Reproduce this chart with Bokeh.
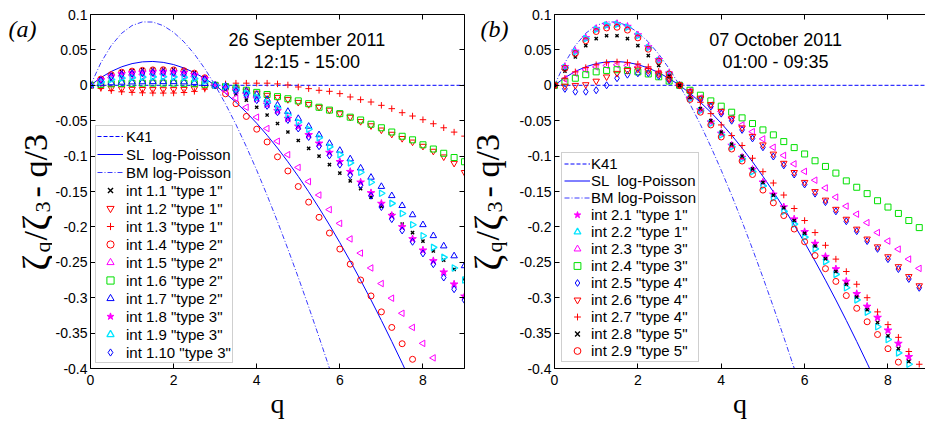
import math
from bokeh.plotting import figure
from bokeh.models import (Range1d, LinearAxis, FixedTicker, CustomJSTickFormatter,
                          CustomLabelingPolicy, Label, Legend, LegendItem)
from bokeh.layouts import row
from bokeh.embed import file_html
from bokeh.resources import INLINE

nan = float("nan")

# ---------------- data ----------------
q_left = [0.0, 0.25, 0.5, 0.75, 1.0, 1.25, 1.5, 1.75, 2.0, 2.25, 2.5, 2.75, 3.0,
          3.25, 3.5, 3.75, 4.0, 4.25, 4.5, 4.75, 5.0, 5.25, 5.5, 5.75, 6.0,
          6.25, 6.5, 6.75, 7.0, 7.25, 7.5, 7.75, 8.0, 8.25, 8.5, 8.75, 9.0]

x_ticks = [0, 2, 4, 6, 8]
y_ticks = [-0.4, -0.35, -0.3, -0.25, -0.2, -0.15, -0.1, -0.05, 0.0, 0.05, 0.1]

k41_q = [0.0, 9.0]
k41 = [0.0, 0.0]
sl_logpoisson = [0, .010892, .019579, .026129, .030618, .03311, .033673, .032371, .02927,
                 .024424, .017894, .009733, 0, -.011256, -.023986, -.038137, -.053663,
                 -.07052, -.088662, -.108048, -.128635, -.150385, -.173258, -.197218,
                 -.222221, -.248245, -.27525, -.303204, -.332072, -.361827, -.392441,
                 -.423884, -.456128, -.489147]
bm_logpoisson = [0, .031929, .056206, .073497, .084417, .089519, .089317, .084269, .074806,
                 .061309, .044132, .023598, 0, -.026394, -.055339, -.086612, -.120009,
                 -.155345, -.19245, -.23117, -.271361, -.312898, -.355659, -.399542, -.444444]

# panel (a): 26 September 2011
int11 = [0, .0092, .0156, .0193, .0209, .0221, .0228, .023, .0228, .0214, .0179, .011, 0,
         -.005, -.012, -.021, -.031, -.042, -.054, -.066, -.078, -.089, -.100, -.112, -.124,
         -.135, -.146, -.158, -.171, -.183, -.196, -.208, -.220, -.234, -.247, -.260, -.273]
int12 = [0, -.0024, -.0041, -.005, -.0055, -.0058, -.0059, -.006, -.0059, -.0056, -.0047, -.0029, 0,
         -.002, -.005, -.008, -.011, -.014, -.017, -.020, -.024, -.027, -.031, -.035, -.040,
         -.045, -.051, -.057, -.063, -.069, -.075, -.080, -.086, -.093, -.101, -.110, -.123]
int13 = [0, -.0044, -.0075, -.0092, -.010, -.0106, -.0109, -.011, -.0109, -.0102, -.0086, -.0053, 0,
         .002, .003, .003, .003, .003, .002, .0005, -.0024, -.0047, -.0071, -.0085, -.0118,
         -.0165, -.0203, -.0236, -.0283, -.033, -.0387, -.0434, -.0486, -.0543, -.060, -.0661, -.0718]
int14 = [0, .0088, .015, .0185, .020, .0211, .0218, .022, .0218, .0205, .0172, .0106, 0,
         -.012, -.026, -.044, -.062, -.080, -.101, -.121, -.143, -.165, -.1865, -.2087, -.2313,
         -.2526, -.275, -.2975, -.320, -.342, -.365, -.387, nan, nan, nan, nan, nan]
int15 = [0, .0064, .0109, .0134, .0146, .0154, .0158, .016, .0158, .0149, .0125, .0077, 0,
         -.008, -.018, -.031, -.045, -.061, -.079, -.098, -.116, -.136, -.155, -.1756, -.195,
         -.217, -.237, -.258, -.280, -.3007, -.322, -.342, -.3645, -.385, nan, nan, nan]
int16 = [0, .0012, .002, .0025, .0027, .0029, .003, .003, .003, .0028, .0023, .0014, 0,
         -.002, -.004, -.007, -.010, -.013, -.016, -.019, -.022, -.026, -.031, -.035, -.040,
         -.045, -.049, -.055, -.060, -.066, -.072, -.077, -.084, -.090, -.096, -.102, -.108]
int17 = [0, .002, .0034, .0042, .0046, .0048, .005, .005, .005, .0047, .0039, .0024, 0,
         -.001, -.004, -.008, -.013, -.020, -.028, -.037, -.047, -.058, -.070, -.082, -.092,
         -.104, -.117, -.130, -.143, -.156, -.170, -.183, -.197, -.2125, -.227, -.241, -.255]
int18 = [0, .0076, .0129, .016, .0173, .0182, .0188, .019, .0188, .0177, .0148, .0091, 0,
         -.003, -.007, -.013, -.019, -.027, -.036, -.047, -.058, -.070, -.082, -.095, -.108,
         -.122, -.137, -.152, -.167, -.184, -.200, -.217, -.233, -.248, -.264, -.281, -.298]
int19 = [0, .0048, .0082, .0101, .0109, .0115, .0119, .012, .0119, .0112, .0094, .0058, 0,
         -.002, -.006, -.011, -.017, -.024, -.032, -.042, -.052, -.062, -.074, -.087, -.098,
         -.1095, -.1228, -.137, -.1525, -.1667, -.181, -.197, -.2125, -.229, -.243, -.258, -.275]
int110 = [0, .0072, .0122, .0151, .0164, .0173, .0178, .018, .0178, .0167, .014, .0086, 0,
          -.003, -.008, -.014, -.021, -.029, -.038, -.049, -.061, -.073, -.086, -.099, -.112,
          -.127, -.141, -.156, -.172, -.189, -.205, -.221, -.2375, -.2526, -.2715, -.288, -.3035]

# panel (b): 07 October 2011
int21 = [0, .026, .048, .067, .080, .085, .087, .083, .071, .054, .036, .017, 0,
         -.018, -.035, -.052, -.068, -.085, -.102, -.119, -.137, -.154, -.172, -.189, -.207,
         -.2235, -.242, -.2595, -.277, -.2945, -.3124, -.328, -.346, -.3647, -.3835, nan]
int22 = [0, .025, .047, .066, .079, .085, .086, .082, .070, .053, .035, .016, 0,
         -.019, -.036, -.054, -.070, -.087, -.104, -.122, -.142, -.159, -.178, -.196, -.2145,
         -.231, -.249, -.267, -.286, -.303, -.3204, -.341, -.359, -.378, -.394, nan]
int23 = [0, .009, .017, .022, .026, .028, .029, .028, .026, .022, .017, .009, 0,
         -.008, -.018, -.028, -.037, -.046, -.056, -.0655, -.0757, -.0875, -.099, -.111, -.1216,
         -.134, -.145, -.158, -.1707, -.182, -.194, -.208, -.220, -.2314, -.2455, -.2586]
int24 = [0, .005, .010, .015, .019, .021, .022, .021, .019, .016, .012, .006, 0,
         -.007, -.014, -.022, -.0295, -.038, -.046, -.054, -.063, -.070, -.0795, -.088, -.097,
         -.1066, -.1146, -.124, -.135, -.144, -.153, -.163, -.172, -.181, -.191, -.201]
int25 = [0, -.005, -.009, -.009, -.007, .000, .010, .015, .017, .017, .013, .007, 0,
         -.010, -.020, -.030, -.040, -.050, -.063, -.075, -.0875, -.1006, -.113, -.126, -.140,
         -.153, -.165, -.178, -.192, -.206, -.220, -.231, -.2455, -.2595, -.2735, -.286]
int26 = [0, -.001, .000, .001, .006, .012, .017, .021, .023, .021, .016, .009, 0,
         -.009, -.018, -.027, -.037, -.047, -.060, -.072, -.084, -.097, -.110, -.123, -.137,
         -.150, -.162, -.175, -.189, -.203, -.217, -.228, -.242, -.256, -.270, -.283]
int27 = [0, .010, .019, .025, .029, .032, .033, .032, .030, .026, .020, .011, 0,
         -.010, -.024, -.040, -.056, -.071, -.085, -.103, -.122, -.138, -.155, -.174, -.191,
         -.208, -.226, -.2455, -.263, -.281, -.300, -.320, -.338, -.356, -.376, -.394]
int28 = [0, .020, .040, .056, .066, .070, .070, .066, .056, .042, .028, .013, 0,
         -.017, -.033, -.050, -.066, -.083, -.100, -.118, -.137, -.155, -.173, -.191, -.209,
         -.227, -.245, -.263, -.281, -.299, -.317, -.335, -.354, -.372, -.390, nan]
int29 = [0, .024, .045, .063, .076, .081, .082, .078, .067, .051, .034, .016, 0,
         -.020, -.038, -.056, -.073, -.090, -.107, -.126, -.148, -.166, -.184, -.203, -.221,
         -.2405, -.259, -.277, -.297, -.315, -.334, -.352, -.372, -.391, nan, nan]

# ---------------- styles ----------------
BLUE = "#0000ff"
RED = "#ff0000"
MAG = "#ff00ff"
GRN = "#00e000"
CYN = "#00e5ff"
BLK = "#000000"

STY = {
    "x":   dict(marker="x", size=4.5, line_color=BLK, line_width=1.4, fill_color=None),
    "dn":  dict(marker="inverted_triangle", size=6.5, line_color=RED, line_width=1.0, fill_color=None),
    "+":   dict(marker="cross", size=6.5, line_color=RED, line_width=1.0, fill_color=None),
    "o":   dict(marker="circle", size=6, line_color=RED, line_width=1.0, fill_color=None),
    "lt":  dict(marker="triangle", angle=math.pi / 2, size=6.5, line_color=MAG, line_width=1.0, fill_color=None),
    "sq":  dict(marker="square", size=6, line_color=GRN, line_width=1.0, fill_color=None),
    "up":  dict(marker="triangle", size=6.5, line_color=BLUE, line_width=1.0, fill_color=None),
    "st":  dict(marker="star", size=8, line_color=MAG, line_width=1.0, fill_color=MAG),
    "rt":  dict(marker="triangle", angle=-math.pi / 2, size=6.5, line_color=CYN, line_width=1.3, fill_color=None),
    "di":  dict(marker="diamond", size=7, line_color=BLUE, line_width=1.0, fill_color=None),
}

left_series = [
    ('int 1.1 "type 1"', int11, "x"),
    ('int 1.2 "type 1"', int12, "dn"),
    ('int 1.3 "type 1"', int13, "+"),
    ('int 1.4 "type 2"', int14, "o"),
    ('int 1.5 "type 2"', int15, "lt"),
    ('int 1.6 "type 2"', int16, "sq"),
    ('int 1.7 "type 2"', int17, "up"),
    ('int 1.8 "type 3"', int18, "st"),
    ('int 1.9 "type 3"', int19, "rt"),
    ('int 1.10 "type 3"', int110, "di"),
]
right_series = [
    ('int 2.1 "type 1"', int21, "st"),
    ('int 2.2 "type 1"', int22, "rt"),
    ('int 2.3 "type 3"', int23, "lt"),
    ('int 2.4 "type 3"', int24, "sq"),
    ('int 2.5 "type 4"', int25, "di"),
    ('int 2.6 "type 4"', int26, "dn"),
    ('int 2.7 "type 4"', int27, "+"),
    ('int 2.8 "type 5"', int28, "x"),
    ('int 2.9 "type 5"', int29, "o"),
]

H = 421
FRAME_TOP = 14      # page y of the frame top (shared by all figures of the row)
FRAME_BOTTOM = 368  # page y of the frame bottom
TICK_FONT = "Liberation Sans"
SERIF = "Liberation Serif"
fmt_code = "return String(Math.round(tick*100)/100);"
no_labels = "for (const i of indices) indices.unset(i)"


def add_axis(p, place, ticks, labels=True, standoff=4):
    ax = LinearAxis(ticker=FixedTicker(ticks=ticks))
    ax.formatter = CustomJSTickFormatter(code=fmt_code)
    ax.minor_tick_line_color = None
    ax.major_tick_in = 5
    ax.major_tick_out = 0
    ax.axis_line_color = "black"
    ax.axis_line_width = 1
    ax.major_tick_line_color = "black"
    if labels:
        ax.major_label_text_font = TICK_FONT
        ax.major_label_text_font_size = "14px"
        ax.major_label_text_color = "black"
        ax.major_label_standoff = standoff
    else:
        ax.major_label_text_font_size = "0px"
        ax.major_label_standoff = 0
        ax.major_label_policy = CustomLabelingPolicy(code=no_labels)
    p.add_layout(ax, place)
    return ax


def lab(p, x, y, text, size, font=SERIF, style="normal", align="left",
        baseline="alphabetic", angle=0.0, units="screen"):
    p.add_layout(Label(x=x, y=y, x_units=units, y_units=units, text=text,
                       text_font=font, text_font_size=f"{size}px", text_font_style=style,
                       text_align=align, text_baseline=baseline, angle=angle,
                       text_color="black"))


def label_strip(width, page_left, tag_x, tag, base_page_x):
    """A plain figure holding the panel tag and the rotated y label (positions from the frame bottom)."""
    f = figure(width=width, height=H, x_range=Range1d(0, width), y_range=Range1d(0, H),
               x_axis_type=None, y_axis_type=None, output_backend="svg", title=None,
               toolbar_location=None, min_border_left=0, min_border_right=0,
               min_border_top=FRAME_TOP, min_border_bottom=H - FRAME_BOTTOM)
    f.outline_line_color = None
    f.grid.visible = False
    fy = lambda page_y: FRAME_BOTTOM - page_y
    lab(f, tag_x - page_left, fy(28), tag, 24, style="italic")
    bx = base_page_x - page_left
    sx = bx + 7
    # pieces of  zeta_q / zeta_3 - q/3 , each given with the page y where it starts (bottom)
    pieces = [
        ("\u03b6", 38, bx, 270),
        ("q", 22, sx, 252),
        ("/", 34, bx, 240),
        ("\u03b6", 38, bx, 230),
        ("3", 22, sx, 212),
        ("-", 34, bx, 197),
        ("q/3", 34, bx, 177),
    ]
    for text, size, px, py in pieces:
        lab(f, px, fy(py), text, size, angle=math.pi / 2)
    return f


def make_panel(width, border_left, border_right, x_end, series, right_axis,
               leg_loc, leg_pad, leg_row, leg_standoff):
    p = figure(width=width, height=H, x_range=Range1d(0, x_end), y_range=Range1d(-0.4, 0.1),
               x_axis_type=None, y_axis_type=None, output_backend="svg",
               toolbar_location=None, min_border_left=border_left,
               min_border_right=border_right, min_border_top=FRAME_TOP,
               min_border_bottom=H - FRAME_BOTTOM)
    p.outline_line_color = None
    p.background_fill_color = "white"
    p.border_fill_color = "white"

    xa = add_axis(p, "below", x_ticks, True, 6)
    xa.axis_label = "q"
    xa.axis_label_text_font = SERIF
    xa.axis_label_text_font_size = "28px"
    xa.axis_label_text_font_style = "normal"
    xa.axis_label_text_color = "black"
    xa.axis_label_standoff = 0
    add_axis(p, "left", y_ticks, True, 3)
    add_axis(p, "above", x_ticks, False)
    if right_axis:
        add_axis(p, "right", y_ticks, False)

    items = []
    r = p.line(k41_q, k41, line_color=BLUE, line_width=1, line_dash="4 2")
    items.append(LegendItem(label="K41", renderers=[r]))
    r = p.line(q_left[:len(sl_logpoisson)], sl_logpoisson, line_color=BLUE, line_width=1)
    items.append(LegendItem(label="SL  log-Poisson", renderers=[r]))
    r = p.line(q_left[:len(bm_logpoisson)], bm_logpoisson, line_color="#3a3aff", line_width=1,
               line_dash="5 2 1 2")
    items.append(LegendItem(label="BM log-Poisson", renderers=[r]))

    for name, vals, key in series:
        r = p.scatter(q_left[:len(vals)], vals, **STY[key])
        items.append(LegendItem(label=name, renderers=[r]))

    leg = Legend(items=items, location=leg_loc)
    leg.label_text_font = TICK_FONT
    leg.label_text_font_size = "15px"
    leg.label_text_color = "black"
    leg.label_height = leg_row
    leg.glyph_height = leg_row
    leg.glyph_width = 26
    leg.spacing = 0
    leg.padding = leg_pad
    leg.margin = 0
    leg.label_standoff = leg_standoff
    leg.border_line_color = "#a0a0a0"
    leg.border_line_width = 1
    leg.background_fill_color = "white"
    leg.background_fill_alpha = 1.0
    p.add_layout(leg)
    return p


def date_text(p, frame_left, center_page_x, lines):
    # screen position -> data position of the panel (41.67 px per q unit, 708 px per 1.0)
    xq = (center_page_x - frame_left) / 41.67
    for text, base_page_y in lines:
        yv = 0.1 - (base_page_y - FRAME_TOP) / 708.0
        lab(p, xq, yv, text, 18, font=TICK_FONT, align="center", units="data")


# ---------------- panel (a) ----------------  page x 0..52 | 52..465
sa = label_strip(52, 0, 8, "(a)", 35)
pa = make_panel(413, 37, 1, 9.0, left_series, True, (5, 5), 1, 18, 3)
date_text(pa, 89, 306, [("26 September 2011", 39), ("12:15 - 15:00", 61)])

# ---------------- panel (b) ----------------  page x 465..510 | 510..925
sb = label_strip(45, 465, 480, "(b)", 487)
pb = make_panel(415, 44, 0, 8.90, right_series, False, (7, 6), 2, 17, 1)
date_text(pb, 554, 775, [("07 October 2011", 39), ("01:00 - 09:35", 61)])

layout = row(sa, pa, sb, pb)
open("out.html", "w").write(file_html(layout, INLINE))
